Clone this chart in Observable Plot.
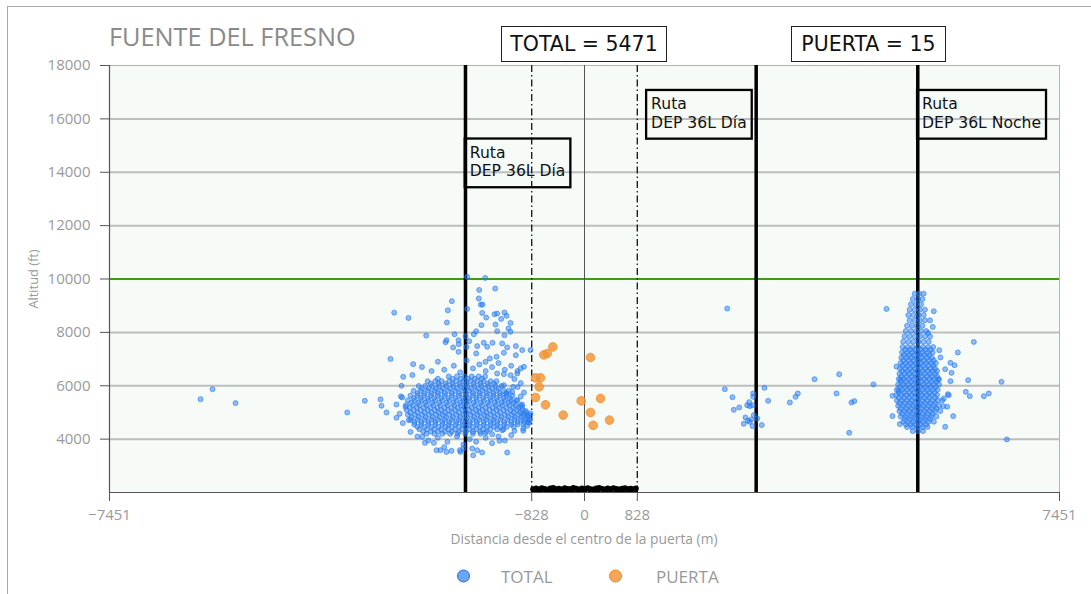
<!DOCTYPE html>
<html><head><meta charset="utf-8">
<script src="https://cdn.jsdelivr.net/npm/d3@7"></script>
<script src="https://cdn.jsdelivr.net/npm/@observablehq/plot@0.6"></script>
<style>
body{margin:0;background:#fff;}
#wrap{position:relative;width:1091px;height:594px;overflow:hidden;font-family:"Open Sans",sans-serif;}
#border{position:absolute;left:7px;top:6px;width:1200px;height:700px;border-left:1.5px solid #a8a8a8;border-top:1.5px solid #a8a8a8;}
#chart{position:absolute;left:0;top:0;}
#title{position:absolute;left:109px;top:24px;font-size:25.3px;color:#8a8a8a;white-space:nowrap;line-height:1;}
.hbox{position:absolute;top:26px;height:36px;border:1.3px solid #222;font-family:"DejaVu Sans",sans-serif;font-size:20.5px;color:#111;display:flex;align-items:center;justify-content:center;background:#fff;box-sizing:border-box;white-space:nowrap;}
#ylab{position:absolute;left:33px;top:279px;transform:translate(-50%,-50%) rotate(-90deg);font-size:12.8px;color:#999;white-space:nowrap;}
#xlab{position:absolute;left:584px;top:538px;transform:translate(-50%,-50%);font-size:13.8px;color:#999;white-space:nowrap;}
.leg{position:absolute;top:576px;transform:translateY(-50%);display:flex;align-items:center;font-size:17px;color:#999;white-space:nowrap;}
.leg span.c{display:inline-block;width:11px;height:11px;border-radius:50%;}
</style></head>
<body>
<div id="wrap">
  <div id="border"></div>
  <div id="chart"></div>
  <div id="title"></div>
  <div id="ylab"></div>
  <div id="xlab"></div>
</div>
<script>
// ---- texts ----
const chartTitle = "FUENTE DEL FRESNO";
const yLabel = "Altitud (ft)";
const xLabel = "Distancia desde el centro de la puerta (m)";
const headerBoxes = [
  {text: "TOTAL = 5471", left: 501, width: 166},
  {text: "PUERTA = 15", left: 791, width: 155}
];
const legendItems = [
  {name: "TOTAL", fill: "#6aa6f5", stroke: "#2a72d8", left: 457, gap: 31},
  {name: "PUERTA", fill: "#f7a658", stroke: "#e58a2e", left: 609, gap: 34}
];

// ---- scales / ticks ----
const xDomain = [-7451, 7451];
const yDomain = [2000, 18000];
const xTicks = [-7451, -828, 0, 828, 7451];
const yTicks = [4000, 6000, 8000, 10000, 12000, 14000, 16000, 18000];
const gridY = [4000, 6000, 8000, 12000, 14000, 16000];
const altLimit = [10000];
const centerLine = [0];
const gateEdges = [-828, 828];
const routeLines = [-1867, 2693, 5228];
const routeLabels = [
  {x: -1800, y: 15050, label: "Ruta\nDEP 36L Día"},
  {x: 1045, y: 16870, label: "Ruta\nDEP 36L Día"},
  {x: 5295, y: 16870, label: "Ruta\nDEP 36L Noche"}
];

// ---- TOTAL: dense core west of gate, rows [altitude, x...] ----
const coreWestRows = [
  [6350, -2130,-2000,-1880,-1770,-1660,-1560],
  [6260, -2300,-2070,-1940,-1830,-1720,-1610],
  [6170, -2460,-2340,-2240,-2120,-2010,-1900,-1790,-1680,-1580,-1470,-1380],
  [6080, -2410,-2290,-2180,-2070,-1960,-1850,-1740,-1630,-1520,-1420],
  [5990, -2600,-2500,-2390,-2280,-2170,-2060,-1950,-1840,-1730,-1620,-1510,-1400,-1300],
  [5900, -2550,-2440,-2330,-2220,-2110,-2000,-1890,-1780,-1670,-1560,-1450,-1350],
  [5810, -2680,-2570,-2460,-2350,-2250,-2140,-2030,-1920,-1810,-1700,-1600,-1490,-1380,-1270,-1190],
  [5720, -2620,-2510,-2400,-2300,-2190,-2080,-1970,-1860,-1750,-1640,-1530,-1430,-1330,-1230],
  [5630, -2730,-2620,-2520,-2410,-2300,-2190,-2080,-1970,-1860,-1750,-1650,-1540,-1430,-1320,-1220,-1130],
  [5540, -2680,-2570,-2460,-2360,-2250,-2140,-2030,-1920,-1810,-1700,-1590,-1480,-1380,-1270,-1170],
  [5450, -2770,-2660,-2550,-2450,-2340,-2230,-2120,-2010,-1900,-1800,-1690,-1580,-1470,-1360,-1250,-1150,-1070],
  [5360, -2720,-2610,-2500,-2390,-2280,-2170,-2060,-1950,-1850,-1740,-1630,-1520,-1410,-1300,-1200,-1110],
  [5270, -2800,-2690,-2590,-2480,-2370,-2260,-2150,-2040,-1940,-1830,-1720,-1610,-1500,-1390,-1290,-1180,-1080,-1000],
  [5180, -2740,-2630,-2520,-2420,-2310,-2200,-2090,-1990,-1880,-1770,-1660,-1550,-1440,-1340,-1230,-1120,-1030],
  [5090, -2790,-2680,-2570,-2460,-2350,-2250,-2140,-2030,-1920,-1810,-1700,-1600,-1490,-1380,-1270,-1160,-1060,-970],
  [5000, -2730,-2620,-2510,-2400,-2290,-2190,-2080,-1970,-1860,-1750,-1650,-1540,-1430,-1320,-1210,-1110,-1010,-920],
  [4910, -2770,-2660,-2550,-2440,-2330,-2220,-2120,-2010,-1900,-1790,-1680,-1570,-1470,-1360,-1250,-1140,-1040,-950,-880],
  [4820, -2710,-2600,-2490,-2380,-2270,-2170,-2060,-1950,-1840,-1730,-1620,-1520,-1410,-1300,-1190,-1090,-990,-900],
  [4730, -2730,-2620,-2510,-2400,-2300,-2190,-2080,-1970,-1860,-1750,-1650,-1540,-1430,-1320,-1210,-1100,-1000,-920,-860],
  [4640, -2670,-2560,-2450,-2340,-2230,-2120,-2010,-1910,-1800,-1690,-1580,-1470,-1370,-1260,-1150,-1050,-950,-880],
  [4550, -2670,-2560,-2450,-2340,-2230,-2130,-2020,-1910,-1800,-1690,-1580,-1470,-1370,-1260,-1150,-1050,-960],
  [4460, -2620,-2510,-2400,-2290,-2180,-2080,-1970,-1860,-1750,-1640,-1530,-1420,-1320,-1220,-1110],
  [4370, -2590,-2470,-2360,-2250,-2140,-2030,-1920,-1810,-1700,-1590,-1480,-1370,-1270],
  [4280, -2530,-2410,-2300,-2190,-2080,-1970,-1860,-1750,-1640,-1530],
  [4200, -2480,-2350,-2230,-2110,-1990,-1870,-1750,-1630]
];
// ---- TOTAL: dense column east (night route), rows [altitude, x...] ----
const coreEastRows = [
  [9450, 5180, 5250, 5320],
  [9250, 5150, 5230, 5300],
  [9050, 5120, 5200, 5280],
  [8850, 5100, 5180, 5260, 5340],
  [8650, 5080, 5160, 5240, 5320],
  [8450, 5100, 5180, 5260, 5340, 5420],
  [8250, 5060, 5140, 5220, 5300],
  [8050, 5040, 5120, 5200, 5280, 5360],
  [7850, 5020, 5100, 5180, 5260, 5340, 5420],
  [7650, 5000, 5080, 5160, 5240, 5320, 5400],
  [7450, 4990, 5070, 5150, 5230, 5310, 5390, 5470],
  [7350, 5030, 5110, 5190, 5270, 5350, 5430],
  [7250, 4980, 5060, 5140, 5220, 5300, 5380, 5460],
  [7150, 5010, 5090, 5170, 5250, 5330, 5410],
  [7050, 4970, 5050, 5130, 5210, 5290, 5370, 5450],
  [6950, 5000, 5080, 5160, 5240, 5320, 5400, 5480],
  [6850, 4960, 5040, 5120, 5200, 5280, 5360, 5440, 5510],
  [6750, 4990, 5070, 5150, 5230, 5310, 5390, 5470],
  [6650, 4950, 5030, 5110, 5190, 5270, 5350, 5430, 5500],
  [6550, 4980, 5060, 5140, 5220, 5300, 5380, 5460, 5530],
  [6450, 4940, 5020, 5100, 5180, 5260, 5340, 5420, 5500],
  [6350, 4970, 5050, 5130, 5210, 5290, 5370, 5450, 5530],
  [6250, 4930, 5010, 5090, 5170, 5250, 5330, 5410, 5490, 5560],
  [6150, 4960, 5040, 5120, 5200, 5280, 5360, 5440, 5520],
  [6050, 4920, 5000, 5080, 5160, 5240, 5320, 5400, 5480, 5560],
  [5950, 4950, 5030, 5110, 5190, 5270, 5350, 5430, 5510],
  [5850, 4900, 4980, 5060, 5140, 5220, 5300, 5380, 5460, 5540],
  [5750, 4930, 5010, 5090, 5170, 5250, 5330, 5410, 5490],
  [5650, 4890, 4970, 5050, 5130, 5210, 5290, 5370, 5450, 5530],
  [5550, 4930, 5010, 5090, 5170, 5250, 5330, 5410, 5500],
  [5450, 4900, 4980, 5060, 5140, 5220, 5300, 5380, 5460, 5540, 5610],
  [5350, 4940, 5020, 5100, 5180, 5260, 5340, 5420, 5500],
  [5250, 4920, 5000, 5080, 5160, 5240, 5320, 5400, 5480, 5560],
  [5150, 4960, 5040, 5120, 5200, 5280, 5360, 5440, 5520],
  [5050, 4940, 5020, 5100, 5180, 5260, 5340, 5420, 5500, 5580],
  [4950, 4980, 5060, 5140, 5220, 5300, 5380, 5460],
  [4850, 4960, 5040, 5120, 5200, 5280, 5360, 5440, 5520],
  [4750, 5020, 5100, 5180, 5260, 5340, 5420],
  [4650, 5000, 5080, 5160, 5240, 5320, 5400, 5480],
  [4550, 5040, 5120, 5200, 5280, 5360],
  [4450, 5060, 5140, 5220, 5300, 5380],
  [4300, 5150, 5230, 5310]
];
// ---- TOTAL: scattered flights [x, altitude] ----
const totalScattered = [
  [-6023,5498],[-5835,5873],[-5474,5349],
  [-3722,5000],[-3446,5435],[-3200,5490],[-3184,5250],[-3106,5000],[-3043,7007],[-2985,8740],[-2761,8540],
  [-2870,6000],[-2844,6333],[-2860,5560],[-2687,6810],[-2483,7880],[-2159,8370],[-2144,8830],[-2081,9170],
  [-1840,10080],[-1558,10040],[-1401,9640],[-1652,9590],[-1658,9270],[-1627,9040],[-1600,9040],[-1840,8880],
  [-1605,8730],[-1542,8555],[-1412,8680],[-1370,8705],[-1255,8745],[-1224,8620],[-1307,8505],[-1161,8355],
  [-1396,8295],[-1192,8145],[-1616,8270],[-1699,8045],[-1736,7930],[-1370,8045],[-1255,7895],[-1161,8020],
  [-2039,7930],[-1976,7705],[-1867,7855],[-1809,7670],[-1851,7455],[-2165,7705],[-2180,7630],[-2060,7435],
  [-1972,7555],[-1976,7270],[-1580,7610],[-1527,7460],[-1683,7485],[-1699,7210],[-1443,7610],[-1291,7585],
  [-1213,7435],[-1077,7485],[-977,7335],[-847,7335],[-1077,7145],[-1265,7235],[-1380,7085],[-1485,7025],
  [-1553,6895],[-950,6710],[-1001,6650],[-1054,6460],[-1161,6395],[-1265,6435],[-1370,6460],[-1265,6020],
  [-1119,5960],[-1134,5770],[-1224,5710],[-1054,5460],[-977,5210],[-961,4960],[-873,4610],[-847,4960],
  [-961,4310],[-1098,4310],[-1213,3500],[-1333,3935],[-1291,4335],[-1448,4185],[-1558,4235],[-1683,3585],
  [-1605,3500],[-1746,3395],[-1762,3645],[-1945,3520],[-1955,3585],[-2086,3560],[-2165,3520],[-2259,3585],
  [-2321,3585],[-2363,3860],[-2504,3860],[-2546,4085],[-2729,4270],[-2756,4710],[-2808,5210],
  [-2550,6700],[-2400,6550],[-2300,6900],[-2200,6600],[-2050,6750],[-1950,6500],[-1850,6950],[-1750,6650],
  [-1650,6800],[-1550,6550],[-1450,6700],[-1350,6850],[-1250,6600],[-1150,6750],[-1050,6550],[-2700,6400],
  [-1100,6250],[-1000,6100],[-1050,5950],[-950,5750],[-2950,5300],[-2900,4950],[-2880,5600],[-2850,4600],
  [-2950,4800],[-980,5300],[-920,5050],[-880,4850],[-860,4700],[-900,4500],[-960,4400],[-1000,5600],
  [-2620,4100],[-2450,3950],[-2300,4050],[-2150,3900],[-2000,4100],[-1900,3800],[-1800,4000],[-1700,3900],
  [-1550,4050],[-1450,3850],[-1350,4100],[-1250,3950],[-1150,4150],[-1900,3650],[-2200,3700],
  [2238,8893],[2201,5873],[2321,5573],[2342,5098],[2427,5188],[2499,4574],[2525,4814],
  [2552,5274],[2583,5386],[2593,5236],[2635,5274],[2646,5712],[2646,5585],[2615,4739],[2562,4687],
  [2593,4649],[2656,4900],[2635,4488],[2709,4776],[2781,4525],[2823,5922],[2881,5435],
  [3221,5375],[3310,5585],[3346,5712],[3608,6247],[3953,5712],[3995,6434],[4152,4238],[4188,5375],
  [4231,5424],[4533,6049],[4737,8880],
  [4831,5624],[4831,4862],[4894,6722],[4946,4563],[4957,6235],[4925,5824],
  [5479,8792],[5463,8205],[5391,7980],[5714,5648],[5636,5525],[5627,5236],
  [5548,6235],[5564,7333],[5584,7060],[5658,6621],[5689,5213],[5658,4463],[5741,6858],[5804,6771],
  [5757,6483],[5741,6172],[5783,4862],[5856,7246],[5699,5686],[5981,5771],[6044,5611],[6018,6210],
  [6107,7643],[6264,5611],[6342,5712],[6541,6147],[6625,3990]
];
// ---- PUERTA (gate) flights [x, altitude] ----
const puertaFlights = [
  [-497,7456],[-585,7209],[-638,7157],[94,7060],[-769,6296],[-690,6296],[-711,5959],[-769,5562],
  [-612,5285],[-52,5435],[251,5525],[-334,4900],[94,5000],[392,4712],[136,4515]
];
// ---- ground-level returns inside the gate [x, altitude] ----
const groundReturns = [
  [-805,2120],[-760,2150],[-715,2110],[-670,2160],[-625,2130],[-580,2100],[-535,2150],[-490,2170],
  [-445,2120],[-400,2140],[-355,2110],[-310,2160],[-265,2130],[-220,2120],[-175,2170],[-130,2140],
  [-85,2110],[-40,2150],[5,2130],[50,2160],[95,2120],[140,2110],[185,2150],[230,2170],[275,2130],
  [320,2110],[365,2150],[410,2120],[455,2160],[500,2130],[545,2110],[590,2140],[635,2160],[680,2120],
  [725,2140],[770,2110],[805,2150],
  [-790,2030],[-700,2040],[-600,2030],[-500,2040],[-400,2030],[-300,2040],[-200,2030],[-100,2040],
  [0,2030],[100,2040],[200,2030],[300,2040],[400,2030],[500,2040],[600,2030],[700,2040],[790,2030]
];

// ---- build tables ----
const rowsToPoints = rows => rows.flatMap(([y, ...xs]) => xs.map(x => ({x, y})));
const total = [
  ...rowsToPoints(coreWestRows),
  ...rowsToPoints(coreEastRows),
  ...totalScattered.map(([x, y]) => ({x, y}))
];
const puerta = puertaFlights.map(([x, y]) => ({x, y}));
const ground = groundReturns.map(([x, y]) => ({x, y}));
const fmt = d3.format("d");

const chart = Plot.plot({
  width: 1091, height: 594,
  marginLeft: 109, marginRight: 32, marginTop: 65, marginBottom: 102,
  x: {domain: xDomain},
  y: {domain: yDomain},
  style: {background: "transparent", fontFamily: "'Open Sans', sans-serif"},
  marks: [
    Plot.frame({fill: "#f6fbf7", stroke: "#b4b4b4"}),
    Plot.ruleY(gridY, {stroke: "#bdbdbd", strokeWidth: 2}),
    Plot.ruleY(altLimit, {stroke: "#3f9b14", strokeWidth: 2}),
    Plot.ruleX(centerLine, {stroke: "#555", strokeWidth: 1}),
    Plot.ruleX(gateEdges, {stroke: "#111", strokeWidth: 1.3, strokeDasharray: "7,3,1.5,3"}),
    Plot.ruleX(routeLines, {stroke: "#000", strokeWidth: 3.5}),
    Plot.dot(total, {x: "x", y: "y", r: 2.5, fill: "#2a7cf2", fillOpacity: 0.5, stroke: "#2a7cf2", strokeOpacity: 0.62, strokeWidth: 1}),
    Plot.dot(puerta, {x: "x", y: "y", r: 4.3, fill: "#f39436", fillOpacity: 0.82, stroke: "#f39436", strokeOpacity: 0.9, strokeWidth: 1}),
    Plot.dot(ground, {x: "x", y: "y", r: 3, fill: "#000", clip: true}),
    Plot.ruleX([xDomain[0]], {stroke: "#555", strokeWidth: 1.2}),
    Plot.ruleY([yDomain[0]], {stroke: "#555", strokeWidth: 1.2}),
    Plot.axisY({ticks: yTicks, tickSize: 9, tickPadding: 10, tickFormat: fmt, fontSize: 15, stroke: "#555", fill: "#9a9a9a", label: null}),
    Plot.axisX({ticks: xTicks, tickSize: 9, tickPadding: 8, tickFormat: fmt, fontSize: 15, stroke: "#555", fill: "#9a9a9a", label: null}),
    Plot.text(routeLabels, {x: "x", y: "y", text: "label", textAnchor: "start", lineAnchor: "top", fontFamily: "DejaVu Sans", fontSize: 15.6, fill: "#111", lineHeight: 1.2, className: "route-label"})
  ]
});
document.getElementById("chart").appendChild(chart);

// boxes around route labels
d3.select(chart).selectAll("g.route-label text").each(function() {
  const b = this.getBBox();
  const padX = 5, padTop = 5, padBottom = 7;
  d3.select(this.parentNode).insert("rect", () => this)
    .attr("transform", this.getAttribute("transform"))
    .attr("x", b.x - padX).attr("y", b.y - padTop)
    .attr("width", b.width + 2 * padX).attr("height", b.height + padTop + padBottom)
    .attr("fill", "none").attr("stroke", "#000").attr("stroke-width", 2.3);
});

document.getElementById("title").textContent = chartTitle;
document.getElementById("ylab").textContent = yLabel;
document.getElementById("xlab").textContent = xLabel;
const wrap = document.getElementById("wrap");
headerBoxes.forEach(h => {
  const d = document.createElement("div");
  d.className = "hbox";
  d.style.left = h.left + "px";
  d.style.width = h.width + "px";
  d.textContent = h.text;
  wrap.appendChild(d);
});
legendItems.forEach(l => {
  const d = document.createElement("div");
  d.className = "leg";
  d.style.left = l.left + "px";
  const c = document.createElement("span");
  c.className = "c";
  c.style.background = l.fill;
  c.style.border = "1.3px solid " + l.stroke;
  c.style.marginRight = l.gap + "px";
  d.appendChild(c);
  d.appendChild(document.createTextNode(l.name));
  wrap.appendChild(d);
});
</script>
</body></html>
